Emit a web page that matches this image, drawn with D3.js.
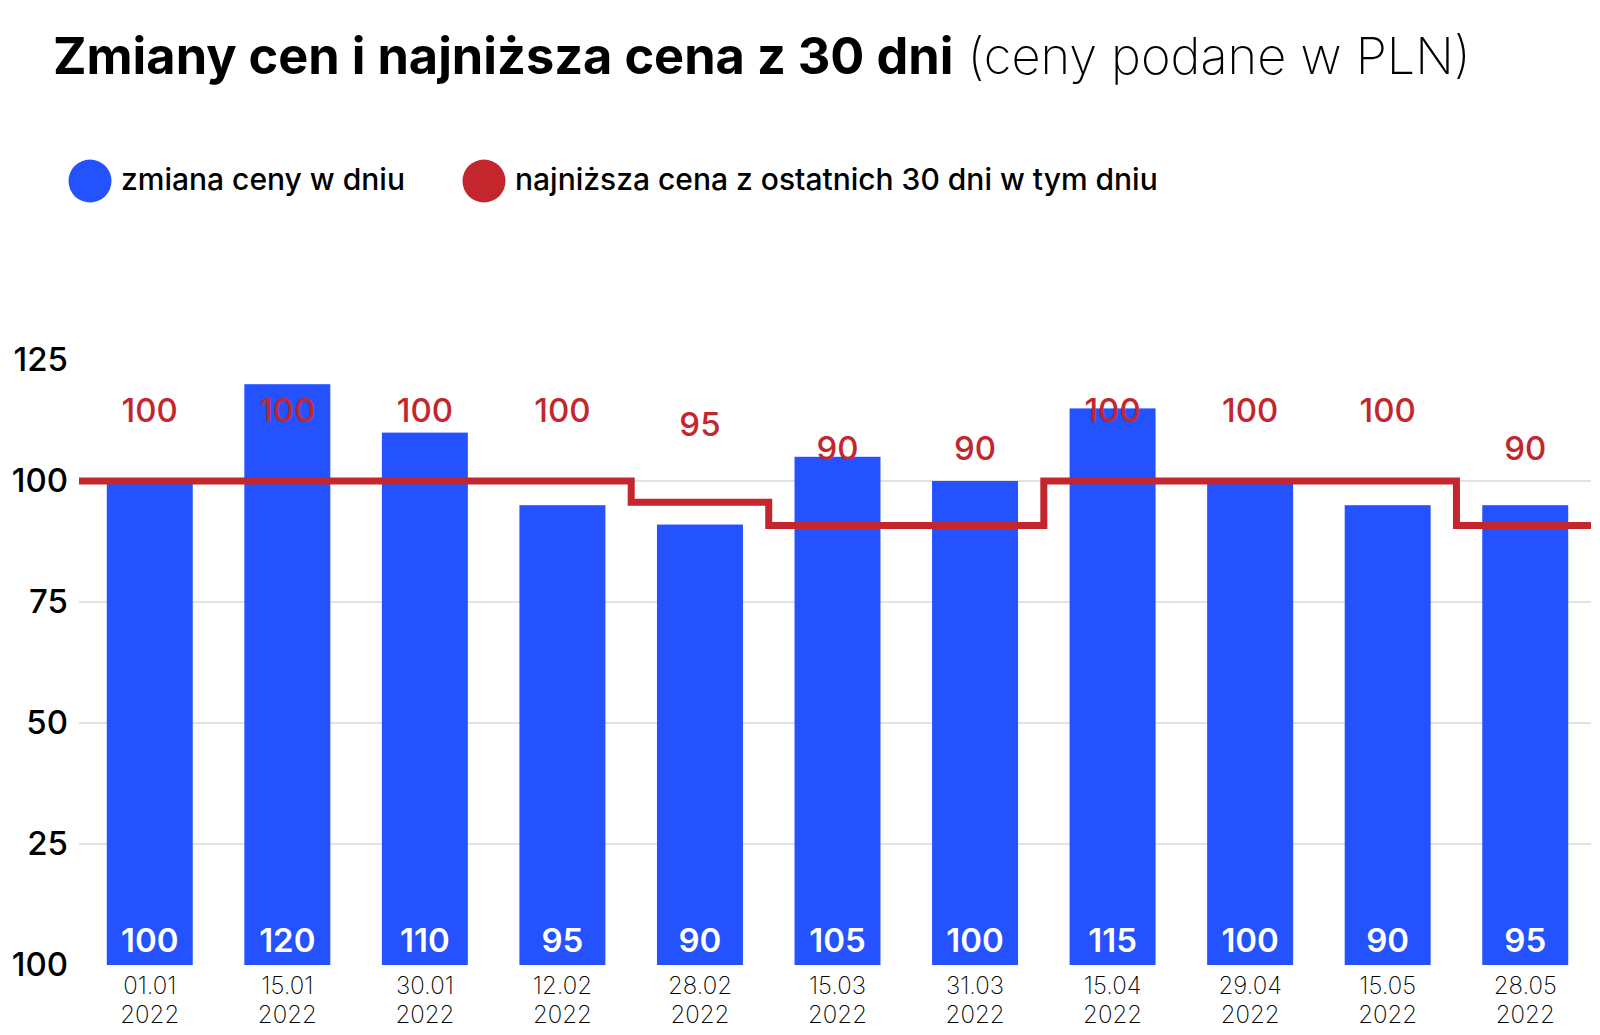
<!DOCTYPE html>
<html>
<head>
<meta charset="utf-8">
<script src="https://cdn.jsdelivr.net/npm/d3@7"></script>
<style>
    body { margin: 0; background: #fff; }
    svg { font-family: Inter, "Noto Sans", sans-serif; }
</style>
</head>
<body>
<div id="chart-area"></div>
<script>
// data
var dates = ["01.01", "15.01", "30.01", "12.02", "28.02", "15.03", "31.03", "15.04", "29.04", "15.05", "28.05"];
var years = ["2022", "2022", "2022", "2022", "2022", "2022", "2022", "2022", "2022", "2022", "2022"];
var barValues = [100, 120, 110, 95, 91, 105, 100, 115, 100, 95, 95];
var barLabels = ["100", "120", "110", "95", "90", "105", "100", "115", "100", "90", "95"];
var lowValues = [100, 100, 100, 100, 95.6, 90.8, 90.8, 100, 100, 100, 90.8];
var lowLabels = ["100", "100", "100", "100", "95", "90", "90", "100", "100", "100", "90"];
var yTicks = [0, 25, 50, 75, 100, 125];
var yTickLabels = ["100", "25", "50", "75", "100", "125"];
var gridTicks = [25, 50, 75, 100];

var BLUE = "#2552ff",
    RED = "#c4262e";

var width = 1600, height = 1035;

var svg = d3.select("#chart-area")
    .append("svg")
    .attr("width", width)
    .attr("height", height);

// Title
var title = svg.append("text")
    .attr("x", 53)
    .attr("y", 74)
    .attr("font-size", "50.5px")
    .attr("fill", "#000");
title.append("tspan")
    .attr("font-weight", 700)
    .text("Zmiany cen i najniższa cena z 30 dni");
title.append("tspan")
    .attr("font-weight", 250)
    .text(" (ceny podane w PLN)");

// Legend
var legend = [
    { cx: 90, tx: 121, color: BLUE, text: "zmiana ceny w dniu" },
    { cx: 484, tx: 515, color: RED, text: "najniższa cena z ostatnich 30 dni w tym dniu" }
];
legend.forEach(function(l) {
    svg.append("circle")
        .attr("cx", l.cx)
        .attr("cy", 181)
        .attr("r", 21.5)
        .attr("fill", l.color);
    svg.append("text")
        .attr("x", l.tx)
        .attr("y", 190)
        .attr("font-size", "30px")
        .attr("font-weight", 550)
        .attr("fill", "#000")
        .text(l.text);
});

// Scales
var x = d3.scaleBand()
    .domain(dates)
    .range([81, 1594])
    .paddingInner(0.375)
    .paddingOuter(0.1875);

var y = d3.scaleLinear()
    .domain([0, 125])
    .range([965, 360]);

var lineStart = 79, lineEnd = 1591;

// Gridlines
svg.append("g")
    .selectAll("line")
    .data(gridTicks)
    .enter().append("line")
    .attr("x1", lineStart)
    .attr("x2", lineEnd)
    .attr("y1", function(d) { return y(d); })
    .attr("y2", function(d) { return y(d); })
    .attr("stroke", "#d9d9d9")
    .attr("stroke-width", 1.5);

// Y axis labels
var yAxisCall = d3.axisLeft(y)
    .tickValues(yTicks)
    .tickSize(0)
    .tickPadding(0)
    .tickFormat(function(d, i) { return yTickLabels[i]; });
var yAxis = svg.append("g")
    .attr("transform", "translate(68,0)")
    .call(yAxisCall);
yAxis.select(".domain").remove();
yAxis.selectAll("text")
    .attr("font-family", "Inter, sans-serif")
    .attr("font-size", "33px")
    .attr("font-weight", 500)
    .attr("fill", "#000");

// Bars
svg.append("g")
    .selectAll("rect")
    .data(barValues)
    .enter().append("rect")
    .attr("x", function(d, i) { return x(dates[i]); })
    .attr("y", function(d) { return y(d); })
    .attr("width", x.bandwidth())
    .attr("height", function(d) { return y(0) - y(d); })
    .attr("fill", BLUE);

// Bar labels
svg.append("g")
    .selectAll("text")
    .data(barLabels)
    .enter().append("text")
    .attr("x", function(d, i) { return x(dates[i]) + x.bandwidth() / 2; })
    .attr("y", y(0) - 13)
    .attr("text-anchor", "middle")
    .attr("font-size", "33px")
    .attr("font-weight", 600)
    .attr("fill", "#fff")
    .text(function(d) { return d; });

// X axis (date labels)
var xAxisCall = d3.axisBottom(x)
    .tickSize(0)
    .tickPadding(0)
    .tickFormat("");
var xAxis = svg.append("g")
    .attr("transform", "translate(0," + y(0) + ")")
    .call(xAxisCall);
xAxis.select(".domain").remove();
xAxis.selectAll(".tick").each(function(d, i) {
    var t = d3.select(this).append("text")
        .attr("text-anchor", "middle")
        .attr("font-family", "Inter, sans-serif")
        .attr("font-size", "24px")
        .attr("font-weight", 250)
        .attr("fill", "#000");
    t.append("tspan").attr("x", 0).attr("y", 29).text(dates[i]);
    t.append("tspan").attr("x", 0).attr("y", 58).text(years[i]);
});

// Lowest price step line
var linePts = [[lineStart, lowValues[0]]];
lowValues.forEach(function(v, i) {
    linePts.push([x(dates[i]) + x.bandwidth() / 2, v]);
});
linePts.push([lineEnd, lowValues[lowValues.length - 1]]);

var line = d3.line()
    .x(function(d) { return d[0]; })
    .y(function(d) { return y(d[1]); })
    .curve(d3.curveStep);

svg.append("path")
    .attr("d", line(linePts))
    .attr("fill", "none")
    .attr("stroke", RED)
    .attr("stroke-width", 7);

// Lowest price labels
svg.append("g")
    .selectAll("text")
    .data(lowLabels)
    .enter().append("text")
    .attr("x", function(d, i) { return x(dates[i]) + x.bandwidth() / 2; })
    .attr("y", function(d, i) { return y(lowValues[i]) - (lowValues[i] >= 100 ? 59 : 66); })
    .attr("text-anchor", "middle")
    .attr("font-size", "33px")
    .attr("font-weight", 500)
    .attr("fill", RED)
    .text(function(d) { return d; });
</script>
</body>
</html>
